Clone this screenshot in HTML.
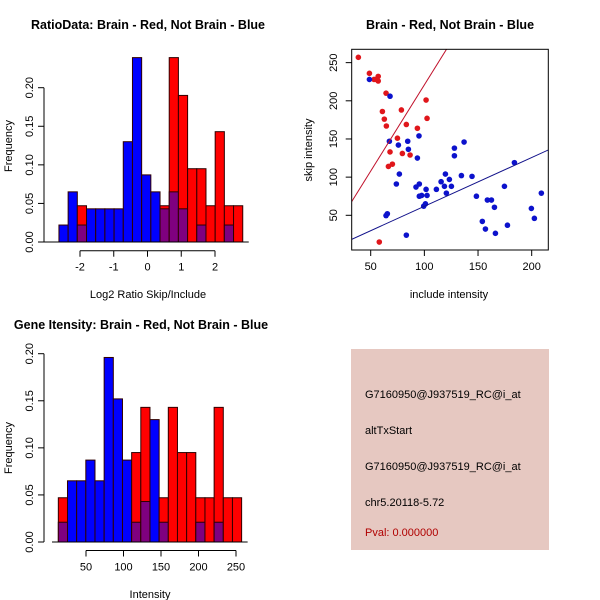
<!DOCTYPE html>
<html><head><meta charset="utf-8"><style>
body{margin:0;background:#fff;}
svg{display:block;font-family:"Liberation Sans",sans-serif;}
</style></head><body>
<svg id="c" width="600" height="600">
<text x="148" y="29" text-anchor="middle" font-weight="bold" font-size="12.5">RatioData: Brain - Red, Not Brain - Blue</text>
<text x="450" y="29" text-anchor="middle" font-weight="bold" font-size="12.5">Brain - Red, Not Brain - Blue</text>
<text x="141" y="329" text-anchor="middle" font-weight="bold" font-size="12.5">Gene Itensity: Brain - Red, Not Brain - Blue</text>
<text x="148" y="298" text-anchor="middle" font-size="11">Log2 Ratio Skip/Include</text>
<text x="12" y="146" text-anchor="middle" font-size="11" transform="rotate(-90 12 146)">Frequency</text>
<text x="449" y="298" text-anchor="middle" font-size="11">include intensity</text>
<text x="312" y="150" text-anchor="middle" font-size="11" transform="rotate(-90 312 150)">skip intensity</text>
<text x="150" y="598" text-anchor="middle" font-size="11">Intensity</text>
<text x="12" y="448" text-anchor="middle" font-size="11" transform="rotate(-90 12 448)">Frequency</text>
<rect x="351" y="349" width="198" height="201" fill="#e6c8c1"/>
<g font-size="11">
<text x="365" y="398">G7160950@J937519_RC@i_at</text>
<text x="365" y="434">altTxStart</text>
<text x="365" y="470">G7160950@J937519_RC@i_at</text>
<text x="365" y="506">chr5.20118-5.72</text>
<text x="365" y="536" fill="#b00000">Pval: 0.000000</text>
</g>
</svg>
<script>
const ratioBlue=[0.022,0.065,0.022,0.043,0.043,0.043,0.043,0.13,0.239,0.087,0.065,0.043,0.065,0.043,0,0.022,0,0,0.022,0];
const ratioRed=[0,0,0.047,0,0,0,0,0,0,0,0,0.047,0.239,0.19,0.095,0.095,0.047,0.143,0.047,0.047];
const ratioTicksX=[-2,-1,0,1,2];
const ratioTicksY=["0.00","0.05","0.10","0.15","0.20"];
const intBlue=[0.021,0.065,0.065,0.087,0.065,0.196,0.152,0.087,0.021,0.043,0.13,0.021,0,0,0,0.021,0,0.021,0,0];
const intRed=[0.047,0,0,0,0,0,0,0,0.095,0.143,0,0.047,0.143,0.095,0.095,0.047,0.047,0.143,0.047,0.047];
const intTicksX=[50,100,150,200,250];
const intTicksY=["0.00","0.05","0.10","0.15","0.20"];
const redX=[38.5,48.8,53.1,55,57,57,64.3,60.9,62.7,64.6,78.6,101.6,102.5,83.2,93.5,74.9,68,79.5,86.7,66.5,70.2,58];
const redY=[257,236,228,228,232,226,210,186,176,167,188,201,177,169,164,151,133,131,129,114,117,15];
const blueX=[48.8,68,67.4,75.8,84.5,85.1,95,93.5,76.7,73.9,92.2,95.3,95.3,97.5,101.6,102.5,99.4,101,111.2,115.6,119.6,118.7,120.5,123.3,125.2,128,128,137,134.5,144.4,148.5,154,156.9,158.7,162.5,165.3,166.2,174.6,177.4,183.9,199.7,202.5,209,64.3,65.5,83.2];
const blueY=[228,206,147,142,147,136.5,154,125,104,91,87,91,75,76,84,76,62,65,84,94,104,88,79,97,88,138,128,146,102,101,75,42,32,70,70,60.5,26.4,88,37,119,59,46,79,49.6,52,24];
const redFit=[-5.1,2.26];
const blueFit=[-2.1,0.639];
const scTicksX=[50,100,150,200];
const scTicksY=[50,100,150,200,250];

const svg=document.getElementById('c');
const NS='http://www.w3.org/2000/svg';
function mk(tag,attrs,parent){const e=document.createElementNS(NS,tag);for(const k in attrs)e.setAttribute(k,attrs[k]);(parent||svg).appendChild(e);return e;}

function hist(name,blue,red,start,width,sx,sy,ticksX,ticksY,xAxisY,baseL){
  const g=mk('g',{});
  
  
  for(let i=0;i<blue.length;i++){
    const x0=sx(start+i*width),x1=sx(start+(i+1)*width);
    const b=blue[i],r=red[i];
    const hi=Math.max(b,r),lo=Math.min(b,r);
    if(hi>0){
      const rr=mk('rect',{x:x0,y:sy(hi),width:x1-x0,height:sy(0)-sy(hi),fill:r>=b?'#ff0000':'#0000ff',stroke:'#300000','stroke-width':1},g);
      
      
    }
    if(lo>0){
      const pr=mk('rect',{x:x0,y:sy(lo),width:x1-x0,height:sy(0)-sy(lo),fill:'#7f007f',stroke:'#300000','stroke-width':1},g);
      
      
    }
  }
  mk('line',{x1:baseL,x2:sx(start+blue.length*width)+6,y1:sy(0),y2:sy(0),stroke:'#000'},g);
  const yax=mk('g',{},g);
  
  
  const yx=44;
  mk('line',{x1:yx,x2:yx,y1:sy(0),y2:sy(parseFloat(ticksY[ticksY.length-1])),stroke:'#000'},yax);
  ticksY.forEach(t=>{const v=parseFloat(t);const y=sy(v);
    mk('line',{x1:yx-6,x2:yx,y1:y,y2:y,stroke:'#000'},yax);
    const tx=mk('text',{x:33,y:y,'text-anchor':'middle','font-size':11,transform:`rotate(-90 33 ${y})`},yax);tx.textContent=t;
    
    });
  const xax=mk('g',{},g);
  
  
  mk('line',{x1:sx(ticksX[0]),x2:sx(ticksX[ticksX.length-1]),y1:xAxisY,y2:xAxisY,stroke:'#000'},xax);
  ticksX.forEach(t=>{const x=sx(t);
    mk('line',{x1:x,x2:x,y1:xAxisY,y2:xAxisY+6,stroke:'#000'},xax);
    const tx=mk('text',{x:x,y:xAxisY+20,'text-anchor':'middle','font-size':11},xax);tx.textContent=t;
    
    });
}
hist('ratio-histogram',ratioBlue,ratioRed,-2.624,0.2723,v=>147.5+v*33.75,v=>242-v*771.5,ratioTicksX,ratioTicksY,250.7,44);
hist('intensity-histogram',intBlue,intRed,13.1,12.22,v=>48.5+v*0.75,v=>542-v*941.5,intTicksX,intTicksY,550.5,52);

const sx=v=>370.7+(v-50)*1.0733, sy=v=>215.3-(v-50)*0.7633;
const L=351.7,R=548.3,T=49.3,B=250;
const sg=mk('g',{});


const cp=mk('clipPath',{id:'clp'},sg);mk('rect',{x:L,y:T,width:R-L,height:B-T},cp);
const pts=mk('g',{'clip-path':'url(#clp)'},sg);
redX.forEach((x,i)=>{const c=mk('circle',{cx:sx(x),cy:sy(redY[i]),r:2.8,fill:'#e0161b'},pts);
  
  });
blueX.forEach((x,i)=>{const c=mk('circle',{cx:sx(x),cy:sy(blueY[i]),r:2.8,fill:'#0c12cc'},pts);
  
  });
const xa=20,xb=230;
const rl=mk('line',{x1:sx(xa),y1:sy(redFit[0]+redFit[1]*xa),x2:sx(xb),y2:sy(redFit[0]+redFit[1]*xb),stroke:'#c0102a','stroke-width':1},pts);


const bl=mk('line',{x1:sx(xa),y1:sy(blueFit[0]+blueFit[1]*xa),x2:sx(xb),y2:sy(blueFit[0]+blueFit[1]*xb),stroke:'#10108a','stroke-width':1},pts);


mk('rect',{x:L,y:T,width:R-L,height:B-T,fill:'none',stroke:'#000'},sg);
scTicksX.forEach(t=>{const x=sx(t);mk('line',{x1:x,x2:x,y1:B,y2:B+6,stroke:'#000'},sg);
  const tx=mk('text',{x:x,y:B+20,'text-anchor':'middle','font-size':11},sg);tx.textContent=t;
  
  });
scTicksY.forEach(t=>{const y=sy(t);mk('line',{x1:L-6,x2:L,y1:y,y2:y,stroke:'#000'},sg);
  const tx=mk('text',{x:337,y:y,'text-anchor':'middle','font-size':11,transform:`rotate(-90 337 ${y})`},sg);tx.textContent=t;
  
  });
</script>
</body></html>
